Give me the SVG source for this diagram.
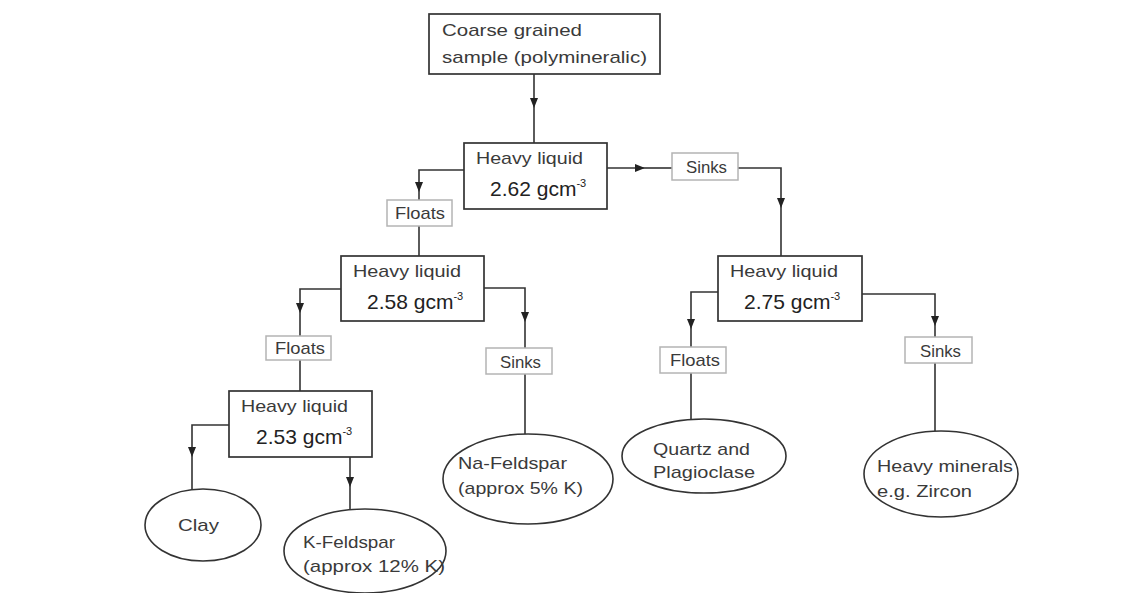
<svg xmlns="http://www.w3.org/2000/svg" width="1140" height="593" viewBox="0 0 1140 593">
<style>
  .box { fill: #ffffff; stroke: #333333; stroke-width: 1.7; }
  .tag { fill: #ffffff; stroke: #b4b4b4; stroke-width: 1.5; }
  .ell { fill: #ffffff; stroke: #333333; stroke-width: 1.6; }
  .conn { fill: none; stroke: #333333; stroke-width: 1.6; }
  .t { font-family: "Liberation Sans", Arial, sans-serif; font-size: 17px; fill: #3a3a3a; }
  .num { font-family: "Liberation Sans", Arial, sans-serif; font-size: 21px; fill: #222222; }
  .sup { font-size: 11px; }
</style>
<defs>
  <marker id="arr" markerUnits="userSpaceOnUse" markerWidth="10" markerHeight="8" refX="10" refY="4" orient="auto" viewBox="0 0 10 8">
    <path d="M0,0 L10,4 L0,8 z" fill="#222222"/>
  </marker>
</defs>
<rect width="1140" height="593" fill="#ffffff"/>

<g id="connectors">
  <path class="conn" d="M534,74 V108" marker-end="url(#arr)"/>
  <path class="conn" d="M534,108 V143"/>
  <path class="conn" d="M464,170 H419 V192" marker-end="url(#arr)"/>
  <path class="conn" d="M419,192 V200"/>
  <path class="conn" d="M419,226 V256"/>
  <path class="conn" d="M607,168 H645" marker-end="url(#arr)"/>
  <path class="conn" d="M645,168 H672"/>
  <path class="conn" d="M738,168 H781 V208" marker-end="url(#arr)"/>
  <path class="conn" d="M781,208 V256"/>
  <path class="conn" d="M341,289 H300 V313" marker-end="url(#arr)"/>
  <path class="conn" d="M300,313 V336"/>
  <path class="conn" d="M300,360 V391"/>
  <path class="conn" d="M484,288 H525 V322" marker-end="url(#arr)"/>
  <path class="conn" d="M525,322 V348"/>
  <path class="conn" d="M525,374 V434"/>
  <path class="conn" d="M229,425 H192 V457" marker-end="url(#arr)"/>
  <path class="conn" d="M192,457 V489"/>
  <path class="conn" d="M350,457 V487" marker-end="url(#arr)"/>
  <path class="conn" d="M350,487 V509"/>
  <path class="conn" d="M718,292 H691 V329" marker-end="url(#arr)"/>
  <path class="conn" d="M691,329 V347"/>
  <path class="conn" d="M691,373 V420"/>
  <path class="conn" d="M862,294 H935 V326" marker-end="url(#arr)"/>
  <path class="conn" d="M935,326 V337"/>
  <path class="conn" d="M935,363 V431"/>
</g>

<g id="sample">
  <rect class="box" x="429" y="14" width="231" height="60"/>
  <text class="t" x="442" y="36" textLength="140" lengthAdjust="spacingAndGlyphs">Coarse grained</text>
  <text class="t" x="442" y="63" textLength="205" lengthAdjust="spacingAndGlyphs">sample (polymineralic)</text>
</g>

<g id="hl262">
  <rect class="box" x="464" y="143" width="143" height="66"/>
  <text class="t" x="476" y="164" textLength="107" lengthAdjust="spacingAndGlyphs">Heavy liquid</text>
  <text class="num" x="490" y="196">2.62 gcm<tspan class="sup" dy="-9">-3</tspan></text>
</g>

<g id="floats1">
  <rect class="tag" x="387" y="200" width="65" height="26"/>
  <text class="t" x="395" y="219" textLength="50" lengthAdjust="spacingAndGlyphs">Floats</text>
</g>

<g id="sinks1">
  <rect class="tag" x="672" y="153" width="66" height="27"/>
  <text class="t" x="686" y="173" textLength="41" lengthAdjust="spacingAndGlyphs">Sinks</text>
</g>

<g id="hl258">
  <rect class="box" x="341" y="256" width="143" height="65"/>
  <text class="t" x="353" y="277" textLength="108" lengthAdjust="spacingAndGlyphs">Heavy liquid</text>
  <text class="num" x="367" y="309">2.58 gcm<tspan class="sup" dy="-9">-3</tspan></text>
</g>

<g id="hl275">
  <rect class="box" x="718" y="256" width="144" height="65"/>
  <text class="t" x="730" y="277" textLength="108" lengthAdjust="spacingAndGlyphs">Heavy liquid</text>
  <text class="num" x="744" y="309">2.75 gcm<tspan class="sup" dy="-9">-3</tspan></text>
</g>

<g id="floats2">
  <rect class="tag" x="266" y="336" width="65" height="24"/>
  <text class="t" x="275" y="354" textLength="50" lengthAdjust="spacingAndGlyphs">Floats</text>
</g>

<g id="sinks2">
  <rect class="tag" x="486" y="348" width="66" height="26"/>
  <text class="t" x="500" y="368" textLength="41" lengthAdjust="spacingAndGlyphs">Sinks</text>
</g>

<g id="floats3">
  <rect class="tag" x="660" y="347" width="66" height="26"/>
  <text class="t" x="670" y="366" textLength="50" lengthAdjust="spacingAndGlyphs">Floats</text>
</g>

<g id="sinks3">
  <rect class="tag" x="905" y="337" width="67" height="26"/>
  <text class="t" x="920" y="357" textLength="41" lengthAdjust="spacingAndGlyphs">Sinks</text>
</g>

<g id="hl253">
  <rect class="box" x="229" y="391" width="143" height="66"/>
  <text class="t" x="241" y="412" textLength="107" lengthAdjust="spacingAndGlyphs">Heavy liquid</text>
  <text class="num" x="256" y="444">2.53 gcm<tspan class="sup" dy="-9">-3</tspan></text>
</g>

<g id="clay">
  <ellipse class="ell" cx="203" cy="525" rx="58" ry="36"/>
  <text class="t" x="178" y="531" textLength="41" lengthAdjust="spacingAndGlyphs">Clay</text>
</g>

<g id="kfeldspar">
  <ellipse class="ell" cx="365" cy="551" rx="81" ry="42"/>
  <text class="t" x="303" y="548" textLength="92" lengthAdjust="spacingAndGlyphs">K-Feldspar</text>
  <text class="t" x="303" y="572" textLength="142" lengthAdjust="spacingAndGlyphs">(approx 12% K)</text>
</g>

<g id="nafeldspar">
  <ellipse class="ell" cx="528" cy="479" rx="85" ry="45"/>
  <text class="t" x="458" y="469" textLength="109" lengthAdjust="spacingAndGlyphs">Na-Feldspar</text>
  <text class="t" x="458" y="494" textLength="125" lengthAdjust="spacingAndGlyphs">(approx 5% K)</text>
</g>

<g id="quartz">
  <ellipse class="ell" cx="704" cy="456" rx="82" ry="37"/>
  <text class="t" x="653" y="455" textLength="97" lengthAdjust="spacingAndGlyphs">Quartz and</text>
  <text class="t" x="653" y="478" textLength="102" lengthAdjust="spacingAndGlyphs">Plagioclase</text>
</g>

<g id="heavyminerals">
  <ellipse class="ell" cx="941" cy="474" rx="77" ry="43"/>
  <text class="t" x="877" y="472" textLength="136" lengthAdjust="spacingAndGlyphs">Heavy minerals</text>
  <text class="t" x="877" y="497" textLength="95" lengthAdjust="spacingAndGlyphs">e.g. Zircon</text>
</g>
</svg>
